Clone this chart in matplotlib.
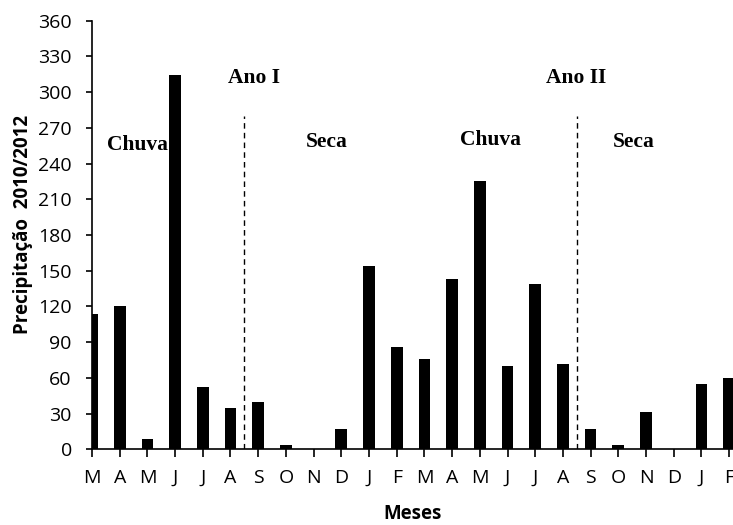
import matplotlib
matplotlib.use("Agg")
import matplotlib.pyplot as plt

months = ["M", "A", "M", "J", "J", "A", "S", "O", "N", "D", "J", "F",
          "M", "A", "M", "J", "J", "A", "S", "O", "N", "D", "J", "F"]
precip = [114, 120, 9, 314, 52, 35, 40, 4, 0, 17, 154, 86,
          76, 143, 225, 70, 139, 72, 17, 4, 31, 0, 55, 60]
yticks = list(range(0, 361, 30))
divider_x = [5.5, 17.5]
divider_top = 280
annotations = [("Ano I", 5.85, 312), ("Ano II", 17.47, 312),
               ("Chuva", 1.66, 256), ("Seca", 8.47, 258),
               ("Chuva", 14.37, 260), ("Seca", 19.57, 258)]

fig = plt.figure(figsize=(7.33, 5.25), dpi=100)
ax = fig.add_axes([0.1255, 0.1442, 0.8745, 0.8164])

x = list(range(len(months)))
ax.bar(x, precip, width=0.42, color="black")

for dx in divider_x:
    ax.plot([dx, dx], [0, divider_top], color="black", lw=1.0,
            linestyle=(0, (4, 3)))

for txt, tx, ty in annotations:
    ax.text(tx, ty, txt, ha="center", va="center", fontsize=15.5,
            fontweight="bold", family="Liberation Serif")

ax.set_xlim(0, 23.14)
ax.set_ylim(0, 360)
ax.set_yticks(yticks)
ax.set_xticks(x)
ax.set_xticklabels(months)
for s in ["top", "right"]:
    ax.spines[s].set_visible(False)
for s in ["left", "bottom"]:
    ax.spines[s].set_linewidth(1.2)
ax.tick_params(axis="y", direction="out", length=4.5, width=1.2,
               labelsize=14, pad=10)
ax.tick_params(axis="x", direction="out", length=6, width=1.2,
               labelsize=14, pad=8)
for lab in ax.get_xticklabels() + ax.get_yticklabels():
    lab.set_family("Open Sans")

ax.set_ylabel("Precipitação  2010/2012", fontsize=13.5, fontweight="bold",
              family="Open Sans")
ax.yaxis.set_label_coords(-0.092, 0.5245)
ax.set_xlabel("Meses", fontsize=13.5, fontweight="bold", family="Open Sans")
ax.xaxis.set_label_coords(0.5, -0.127)

fig.savefig("out.png", dpi=100)
